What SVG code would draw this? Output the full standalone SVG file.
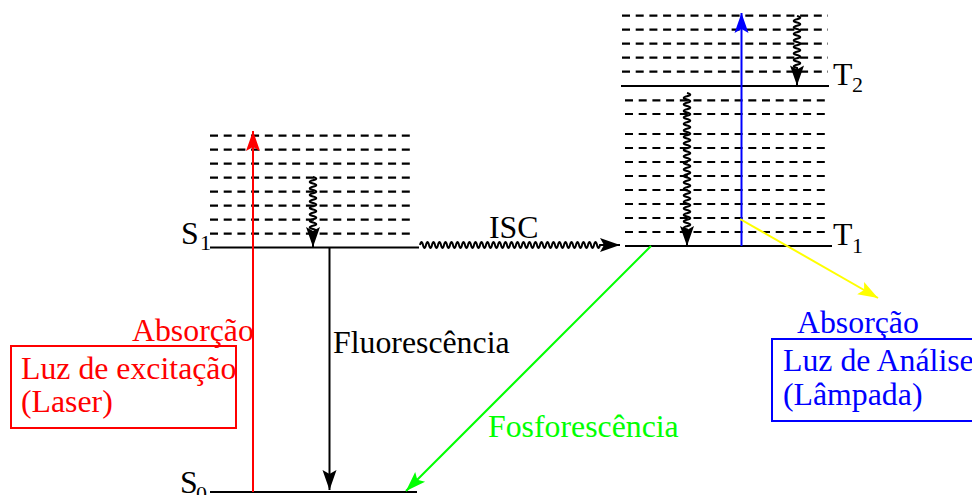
<svg xmlns="http://www.w3.org/2000/svg" width="972" height="495" viewBox="0 0 972 495">
  <style>
    .lvl { stroke: #000; stroke-width: 2; fill: none; }
    .dash { stroke: #000; stroke-width: 2.2; stroke-dasharray: 8 5.7; fill: none; }
    .wave { stroke: #000; stroke-width: 2; fill: none; }
    .t { font-family: "Liberation Serif", "Times New Roman", serif; font-size: 31.8px; }
    .sub { font-size: 22px; }
  </style>
  <defs>
    <marker id="ahK" markerUnits="userSpaceOnUse" markerWidth="20" markerHeight="14" refX="20" refY="7" orient="auto" overflow="visible">
      <path d="M0,0 L20,7 L0,14 L4,7 Z" fill="#000"/>
    </marker>
    <marker id="ahR" markerUnits="userSpaceOnUse" markerWidth="20" markerHeight="14" refX="20" refY="7" orient="auto" overflow="visible">
      <path d="M0,0 L20,7 L0,14 L4,7 Z" fill="#f00"/>
    </marker>
    <marker id="ahB" markerUnits="userSpaceOnUse" markerWidth="20" markerHeight="14" refX="20" refY="7" orient="auto" overflow="visible">
      <path d="M0,0 L20,7 L0,14 L4,7 Z" fill="#00f"/>
    </marker>
    <marker id="ahG" markerUnits="userSpaceOnUse" markerWidth="20" markerHeight="14" refX="20" refY="7" orient="auto" overflow="visible">
      <path d="M0,0 L20,7 L0,14 L4,7 Z" fill="#0f0"/>
    </marker>
    <marker id="ahY" markerUnits="userSpaceOnUse" markerWidth="20" markerHeight="14" refX="20" refY="7" orient="auto" overflow="visible">
      <path d="M0,0 L20,7 L0,14 L4,7 Z" fill="#ff0"/>
    </marker>
  </defs>

  <!-- Singlet S1 with vibrational sublevels -->
  <g id="S1">
    <g class="dash">
      <line x1="210" y1="135.7" x2="415" y2="135.7"/>
      <line x1="210" y1="149.7" x2="415" y2="149.7"/>
      <line x1="210" y1="163.7" x2="415" y2="163.7"/>
      <line x1="210" y1="177.7" x2="415" y2="177.7"/>
      <line x1="210" y1="191.7" x2="415" y2="191.7"/>
      <line x1="210" y1="205.7" x2="415" y2="205.7"/>
      <line x1="210" y1="219.7" x2="415" y2="219.7"/>
      <line x1="210" y1="233.7" x2="415" y2="233.7"/>
    </g>
    <line class="lvl" x1="210" y1="247.5" x2="419" y2="247.5"/>
    <text class="t" x="181" y="244">S<tspan class="sub" x="200" y="250">1</tspan></text>
  </g>

  <!-- Ground state S0 -->
  <g id="S0">
    <line class="lvl" x1="210" y1="492" x2="417" y2="492"/>
    <text class="t" x="180" y="493">S<tspan class="sub" x="196" y="501">0</tspan></text>
  </g>

  <!-- Triplet T2 with vibrational sublevels -->
  <g id="T2">
    <g class="dash">
      <line x1="622" y1="15.7" x2="828" y2="15.7"/>
      <line x1="622" y1="29.7" x2="828" y2="29.7"/>
      <line x1="622" y1="43.7" x2="828" y2="43.7"/>
      <line x1="622" y1="57.7" x2="828" y2="57.7"/>
      <line x1="622" y1="71.7" x2="828" y2="71.7"/>
    </g>
    <line class="lvl" x1="621" y1="86" x2="829" y2="86"/>
    <text class="t" x="833" y="85">T<tspan class="sub" x="852" y="92">2</tspan></text>
  </g>

  <!-- Triplet T1 with vibrational sublevels -->
  <g id="T1">
    <g class="dash">
      <line x1="625" y1="100.3" x2="828" y2="100.3"/>
      <line x1="625" y1="114" x2="828" y2="114"/>
      <line x1="625" y1="134" x2="828" y2="134"/>
      <line x1="625" y1="148" x2="828" y2="148"/>
      <line x1="625" y1="162" x2="828" y2="162"/>
      <line x1="625" y1="176" x2="828" y2="176"/>
      <line x1="625" y1="190" x2="828" y2="190"/>
      <line x1="625" y1="204" x2="828" y2="204"/>
      <line x1="625" y1="218" x2="828" y2="218"/>
      <line x1="625" y1="232" x2="828" y2="232"/>
    </g>
    <line class="lvl" x1="625" y1="246" x2="832" y2="246"/>
    <text class="t" x="833" y="245">T<tspan class="sub" x="852" y="253">1</tspan></text>
  </g>

  <!-- Excitation source box -->
  <g id="laser">
    <rect x="11" y="346" width="225" height="82" fill="none" stroke="#f00" stroke-width="2"/>
    <text class="t" x="21" y="379" fill="#f00">Luz de excitação</text>
    <text class="t" x="21" y="412" fill="#f00">(Laser)</text>
  </g>

  <!-- Analysis lamp box -->
  <g id="lampada">
    <rect x="772" y="339" width="215" height="82" fill="none" stroke="#00f" stroke-width="2"/>
    <text class="t" x="783" y="371" fill="#00f">Luz de Análise</text>
    <text class="t" x="783" y="405" fill="#00f">(Lâmpada)</text>
  </g>

  <!-- Transitions -->
  <g id="connectors">
    <!-- absorption S0 -> S1 -->
    <line x1="253" y1="492" x2="253" y2="131" stroke="#f00" stroke-width="2" marker-end="url(#ahR)"/>
    <text class="t" x="132" y="341" fill="#f00">Absorção</text>

    <!-- vibrational relaxation in S1 -->
    <path class="wave" marker-end="url(#ahK)" d="M313,177 q6.5,1.625 0,3.25 t0,3.25 t0,3.25 t0,3.25 t0,3.25 t0,3.25 t0,3.25 t0,3.25 t0,3.25 t0,3.25 t0,3.25 t0,3.25 t0,3.25 t0,3.25 t0,3.25 t0,3.25 t0,3.25 v14.75"/>

    <!-- fluorescence S1 -> S0 -->
    <line x1="329.5" y1="248" x2="329.5" y2="490" stroke="#000" stroke-width="2" marker-end="url(#ahK)"/>
    <text class="t" x="333" y="353" fill="#000">Fluorescência</text>

    <!-- intersystem crossing S1 -> T1 -->
    <path class="wave" marker-end="url(#ahK)" d="M420,245 q1.5,-6 3,0 t3,0 t3,0 t3,0 t3,0 t3,0 t3,0 t3,0 t3,0 t3,0 t3,0 t3,0 t3,0 t3,0 t3,0 t3,0 t3,0 t3,0 t3,0 t3,0 t3,0 t3,0 t3,0 t3,0 t3,0 t3,0 t3,0 t3,0 t3,0 t3,0 t3,0 t3,0 t3,0 t3,0 t3,0 t3,0 t3,0 t3,0 t3,0 t3,0 t3,0 t3,0 t3,0 t3,0 t3,0 t3,0 t3,0 t3,0 t3,0 t3,0 t3,0 t3,0 t3,0 t3,0 t3,0 t3,0 t3,0 t3,0 t3,0 t3,0 h20"/>
    <text class="t" x="489" y="238" fill="#000">ISC</text>

    <!-- phosphorescence T1 -> S0 -->
    <line x1="651" y1="246" x2="406" y2="491" stroke="#0f0" stroke-width="2" marker-end="url(#ahG)"/>
    <text class="t" x="488" y="437" fill="#0f0">Fosforescência</text>

    <!-- triplet-triplet absorption T1 -> T2 -->
    <line x1="741.5" y1="246" x2="741.5" y2="13" stroke="#00f" stroke-width="2" marker-end="url(#ahB)"/>
    <line x1="740" y1="219" x2="878" y2="298" stroke="#ff0" stroke-width="2" marker-end="url(#ahY)"/>
    <text class="t" x="797" y="333" fill="#00f">Absorção</text>

    <!-- vibrational relaxation in T2 -->
    <path class="wave" marker-end="url(#ahK)" d="M797,16 q6.5,1.625 0,3.25 t0,3.25 t0,3.25 t0,3.25 t0,3.25 t0,3.25 t0,3.25 t0,3.25 t0,3.25 t0,3.25 t0,3.25 t0,3.25 t0,3.25 t0,3.25 t0,3.25 t0,3.25 v17.5"/>

    <!-- internal conversion T2 -> T1 -->
    <path class="wave" marker-end="url(#ahK)" d="M687,93 q6.5,1.625 0,3.25 t0,3.25 t0,3.25 t0,3.25 t0,3.25 t0,3.25 t0,3.25 t0,3.25 t0,3.25 t0,3.25 t0,3.25 t0,3.25 t0,3.25 t0,3.25 t0,3.25 t0,3.25 t0,3.25 t0,3.25 t0,3.25 t0,3.25 t0,3.25 t0,3.25 t0,3.25 t0,3.25 t0,3.25 t0,3.25 t0,3.25 t0,3.25 t0,3.25 t0,3.25 t0,3.25 t0,3.25 t0,3.25 t0,3.25 t0,3.25 t0,3.25 t0,3.25 t0,3.25 t0,3.25 t0,3.25 t0,3.25 t0,3.25 v16.5"/>
  </g>
</svg>
